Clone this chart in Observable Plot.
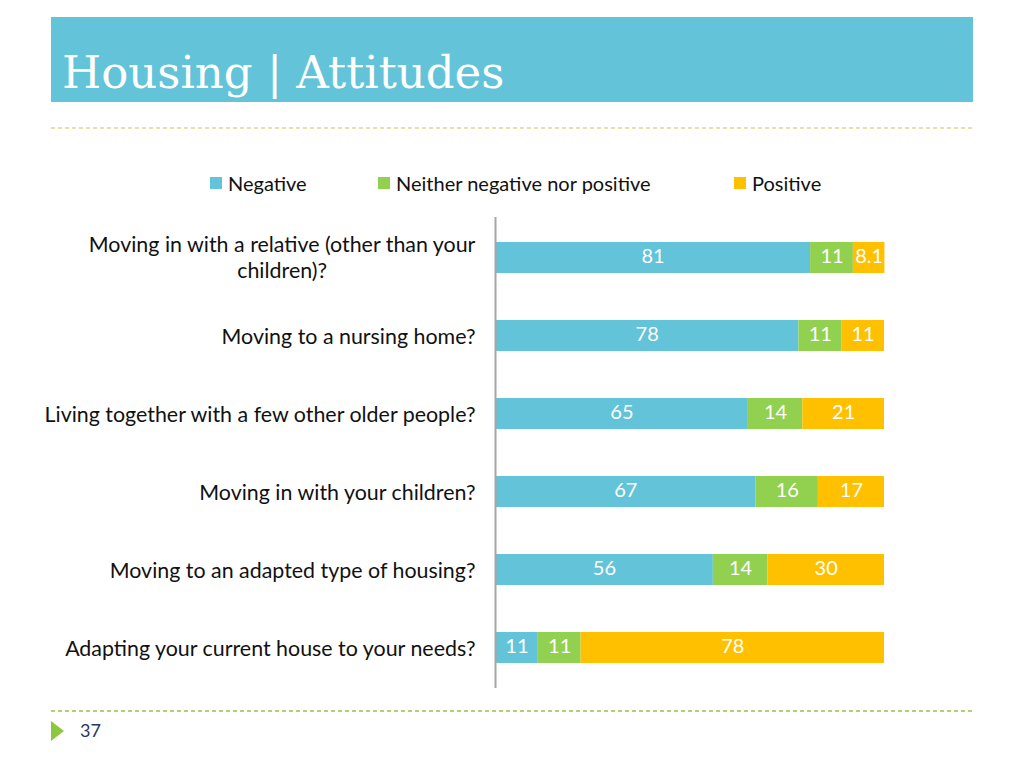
<!DOCTYPE html>
<html><head><meta charset="utf-8">
<script src="https://cdn.jsdelivr.net/npm/d3@7"></script>
<script src="https://cdn.jsdelivr.net/npm/@observablehq/plot@0.6"></script>
<style>
body{margin:0;background:#fff;width:1024px;height:768px;position:relative;overflow:hidden;font-family:Lato,sans-serif;}
#chart{position:absolute;left:0;top:0;}
#banner{position:absolute;left:51px;top:17px;width:922px;height:85px;background:#62c3d9;}
#title{position:absolute;left:62px;top:50px;font-family:"DejaVu Serif",serif;font-size:45px;line-height:1;color:#fff;white-space:nowrap;}
.dash{position:absolute;left:51px;width:922px;height:2px;}
#dash1{top:127px;background:repeating-linear-gradient(to right,#e3e2a8 0 4px,transparent 4px 7px);}
#dash2{top:710px;background:repeating-linear-gradient(to right,#afd077 0 4px,transparent 4px 7px);}
.leg{position:absolute;top:173px;height:20px;line-height:20px;font-size:20px;color:#111;white-space:nowrap;}
.sw{position:absolute;top:177px;width:12px;height:12px;}
#tri{position:absolute;left:51px;top:721px;width:0;height:0;border-top:10px solid transparent;border-bottom:10px solid transparent;border-left:13px solid #8dc63f;}
#page{position:absolute;left:80px;top:720px;font-size:18px;line-height:20px;color:#1f3864;}
</style></head>
<body>
<div id="banner"></div>
<div id="title">Housing | Attitudes</div>
<div class="dash" id="dash1"></div>
<div class="dash" id="dash2"></div>
<div id="legend"></div>
<div id="tri"></div>
<div id="page">37</div>
<div id="chart"></div>
<script>
const questions = [
  "Moving in with a relative (other than your\nchildren)?",
  "Moving to a nursing home?",
  "Living together with a few other older people?",
  "Moving in with your children?",
  "Moving to an adapted type of housing?",
  "Adapting your current house to your needs?"
];
const categories = ["Negative", "Neither negative nor positive", "Positive"];
const negative = [81, 78, 65, 67, 56, 11];
const neither = [11, 11, 14, 16, 14, 11];
const positive = [8.1, 11, 21, 17, 30, 78];
const colors = ["#62c3d9", "#92d050", "#ffc000"];
const legendX = [210, 378, 734];

const series = [negative, neither, positive];
const data = [];
questions.forEach((q, i) => {
  categories.forEach((c, j) => data.push({question: q, cat: c, value: series[j][i]}));
});

const chart = Plot.plot({
  width: 1024,
  height: 768,
  marginLeft: 495,
  marginRight: 140,
  marginTop: 217,
  marginBottom: 80,
  style: {fontFamily: "Lato, sans-serif", fontSize: "21.4px", color: "#111", background: "transparent"},
  x: {domain: [0, 100], axis: null},
  y: {domain: questions, paddingInner: 0.606, paddingOuter: 0.303, axis: null},
  color: {domain: categories, range: colors},
  marks: [
    Plot.barX(data, {x: "value", y: "question", fill: "cat", order: categories}),
    Plot.textX(data, Plot.stackX({x: "value", y: "question", z: "cat", order: categories,
      text: d => String(d.value), fill: "white", fontSize: 20, dy: -1})),
    Plot.ruleX([0], {stroke: "#a6a6a6", strokeWidth: 2}),
    Plot.axisY({tickSize: 0, tickPadding: 20, fontSize: 21.4, label: null, lineHeight: 1.22})
  ]
});
document.getElementById("chart").appendChild(chart);

// center the lines of a wrapped label within its block
chart.querySelectorAll("text").forEach(t => {
  if (t.querySelectorAll("tspan").length > 1) {
    const w = t.getBBox().width;
    t.setAttribute("text-anchor", "middle");
    t.querySelectorAll("tspan").forEach(s => s.setAttribute("text-anchor", "middle"));
    t.setAttribute("transform", (t.getAttribute("transform") || "") + ` translate(${-w / 2},-1)`);
  }
});

const legend = document.getElementById("legend");
categories.forEach((c, j) => {
  const sw = document.createElement("div");
  sw.className = "sw";
  sw.style.left = legendX[j] + "px";
  sw.style.background = colors[j];
  legend.appendChild(sw);
  const lb = document.createElement("div");
  lb.className = "leg";
  lb.style.left = (legendX[j] + 18) + "px";
  lb.textContent = c;
  legend.appendChild(lb);
});
</script>
</body></html>
